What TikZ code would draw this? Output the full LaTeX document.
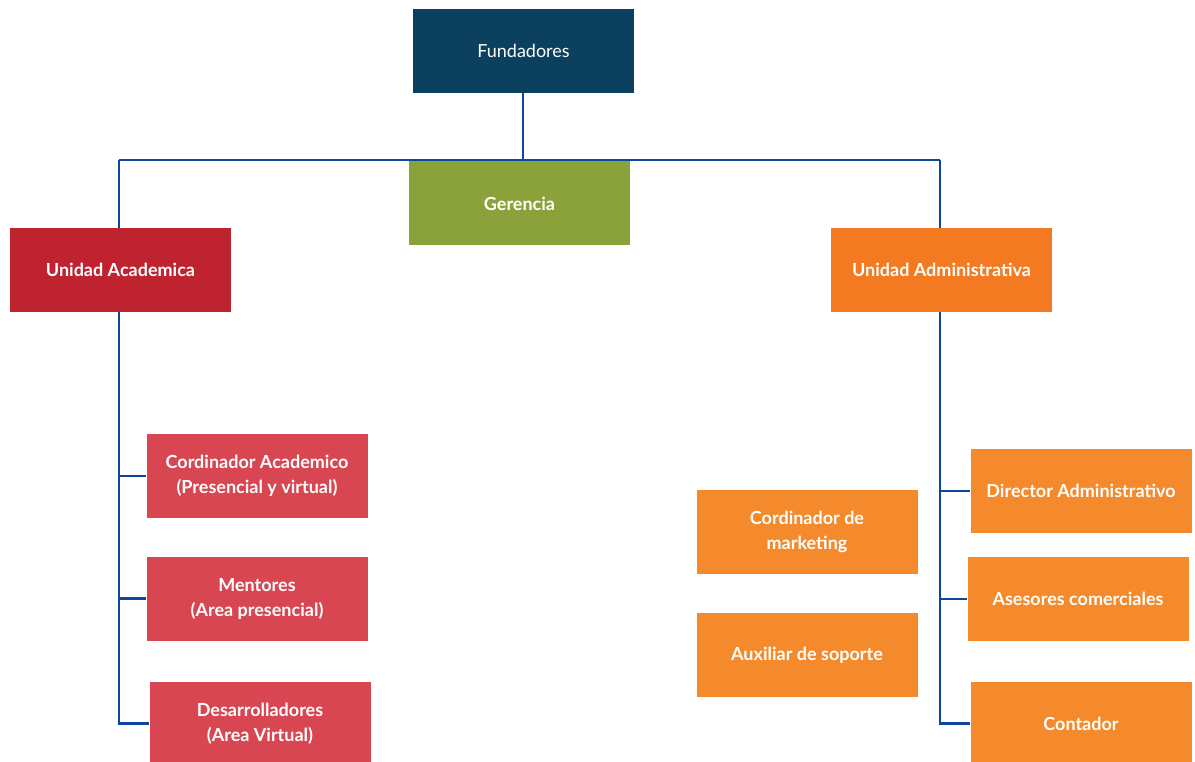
\documentclass[tikz,border=0pt]{standalone}
\usepackage{fontspec}
\setmainfont{Lato}
\definecolor{cfund}{HTML}{0B405E}
\definecolor{cger}{HTML}{8BA23B}
\definecolor{cua}{HTML}{BF2330}
\definecolor{cuadm}{HTML}{F47A22}
\definecolor{cacad}{HTML}{D84651}
\definecolor{cadm}{HTML}{F48A2C}
\definecolor{cline}{HTML}{0D469E}
\tikzset{
  box/.style={rectangle, minimum width=221pt, minimum height=84pt, inner sep=0pt,
    text=white, align=center, font=\fontsize{18}{25}\selectfont\bfseries},
  conn/.style={draw=cline, line width=2.6pt},
}
\begin{document}
\begin{tikzpicture}[x=1pt,y=-1pt]
\useasboundingbox (0,0) rectangle (1195,762);
\node[box, fill=cfund, font=\fontsize{18}{25}\selectfont] (fund) at (523.5,51) {Fundadores};
\node[box, fill=cger] (ger) at (519.5,203.5) {Gerencia};
\node[box, fill=cua] (ua) at (120.5,270) {Unidad Academica};
\node[box, fill=cuadm] (uadm) at (941.5,270) {Unidad Administrativa};
\node[box, fill=cacad] (coac) at (257,476) {Cordinador Academico\\(Presencial y virtual)};
\node[box, fill=cacad] (ment) at (257,598.5) {Mentores\\(Area presencial)};
\node[box, fill=cacad] (desa) at (260,723.5) {Desarrolladores\\(Area Virtual)};
\node[box, fill=cadm] (mark) at (807,532) {Cordinador de\\marketing};
\node[box, fill=cadm] (aux) at (807,655) {Auxiliar de soporte};
\node[box, fill=cadm] (dir) at (1081,491) {Director Administrativo};
\node[box, fill=cadm] (ases) at (1078,599) {Asesores comerciales};
\node[box, fill=cadm] (cont) at (1081,723.5) {Contador};
\coordinate (top) at (523,160);
\coordinate (jl) at (119,160);
\coordinate (jr) at (940,160);
\draw[conn] (fund.south -| top) -- (top);
\draw[conn] (jl) -- (jr);
\draw[conn] (jl) -- (ua.north -| jl);
\draw[conn] (jr) -- (uadm.north -| jr);
\draw[conn] (ua.south -| jl) |- (coac.west);
\draw[conn] (ua.south -| jl) |- (ment.west);
\draw[conn] (ua.south -| jl) |- (desa.west);
\draw[conn] (uadm.south -| jr) |- (dir.west);
\draw[conn] (uadm.south -| jr) |- (ases.west);
\draw[conn] (uadm.south -| jr) |- (cont.west);
\end{tikzpicture}
\end{document}
